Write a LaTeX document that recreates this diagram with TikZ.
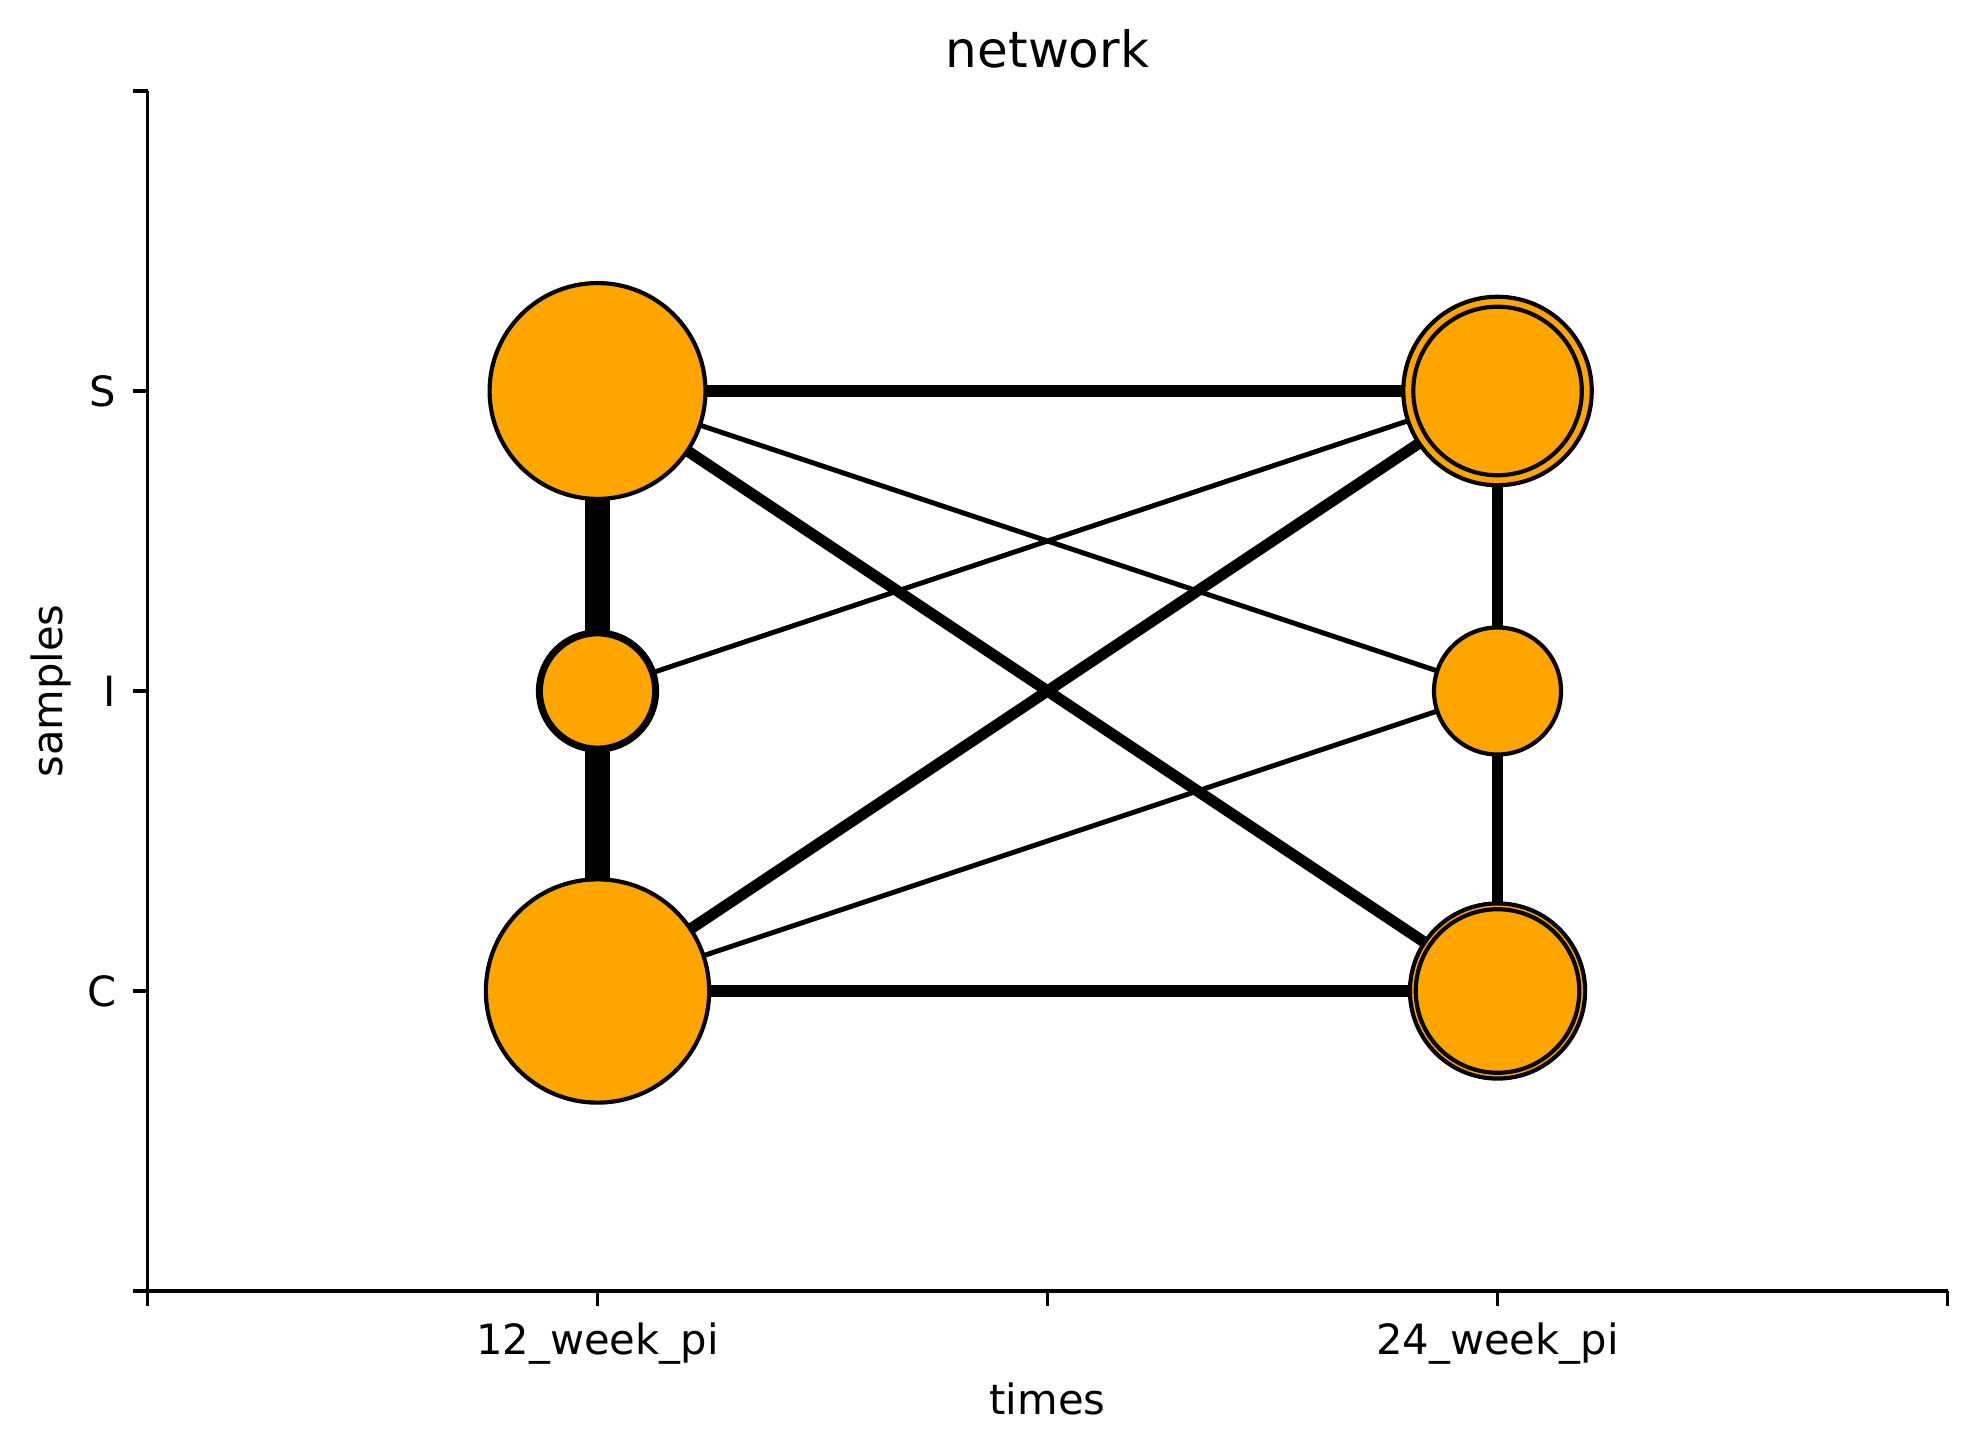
\documentclass[tikz,border=0pt]{standalone}
\usepackage{fontspec}
\setmainfont{DejaVu Sans}
\usepackage{xcolor}
\usepackage{tikz}
\usetikzlibrary{backgrounds}
\definecolor{nodeorange}{HTML}{FFA500}
\tikzset{
    samp/.style={circle, draw, fill=nodeorange, line width=1bp, inner sep=0pt},
    spine/.style={line width=0.8bp},
    tickmark/.style={line width=0.8bp},
    ticklabel/.style={inner sep=0pt, font=\fontsize{10.04}{12}\selectfont},
}

\begin{document}
\begin{tikzpicture}[x=1.5in, y=1in]
        \useasboundingbox (-0.3278,-0.54) rectangle (4.0633,4.3033);

        % axes
        \draw[spine] (0,4) -- (0,0) -- (4,0);
        \draw[tickmark] (0,0) -- (0,-0.0486);
        \draw[tickmark] (1,0) -- (1,-0.0486);
        \draw[tickmark] (2,0) -- (2,-0.0486);
        \draw[tickmark] (3,0) -- (3,-0.0486);
        \draw[tickmark] (4,0) -- (4,-0.0486);
        \draw[tickmark] (0,0) -- (-0.0324,0);
        \draw[tickmark] (0,1) -- (-0.0324,1);
        \draw[tickmark] (0,2) -- (-0.0324,2);
        \draw[tickmark] (0,3) -- (-0.0324,3);
        \draw[tickmark] (0,4) -- (-0.0324,4);

        \node[ticklabel, anchor=base] at (1,-0.213) (x_12) {12\_week\_pi};
        \node[ticklabel, anchor=base] at (3,-0.213) (x_24) {24\_week\_pi};
        \node[ticklabel, anchor=east] at (-0.0678,1) (y_c) {C};
        \node[ticklabel, anchor=east] at (-0.0678,2) (y_i) {I};
        \node[ticklabel, anchor=east] at (-0.0678,3) (y_s) {S};
        \node[ticklabel, anchor=base] at (2,-0.413) (xlabel) {times};
        \node[ticklabel, rotate=90] at (-0.215,2) (ylabel) {samples};
        \node[inner sep=0pt, anchor=base, font=\fontsize{12.05}{14}\selectfont] at (2,4.079) (title) {network};

        % samples
        \node[samp, minimum size=52pt] at (1, 3)   (s_12) {};
        \node[samp, line width=1.7pt, minimum size=28pt] at (1, 2)   (i_12) {};
        \node[samp, minimum size=53.8pt] at (1, 1)   (c_12) {};
        \node[samp, minimum size=45.4pt] at (3, 3)   (s_24) {};
        \node[samp, minimum size=40.6pt] at (3, 3)   (s_24in) {};
        \node[samp, minimum size=30.6pt] at (3, 2)   (i_24) {};
        \node[samp, minimum size=42.2pt] at (3, 1)   (c_24) {};
        \node[samp, minimum size=39.4pt] at (3, 1)   (c_24in) {};

        \begin{scope}[on background layer]
            \draw [line width=6pt] (s_12.center) -- (i_12.center);
            \draw [line width=6pt] (i_12.center) -- (c_12.center);
            \draw [line width=2.8pt] (s_24.center) -- (i_24.center);
            \draw [line width=2.8pt] (i_24.center) -- (c_24.center);
            \draw [line width=3pt] (s_12.center) -- (s_24.center);
            \draw [line width=3pt] (c_12.center) -- (c_24.center);
            \draw [line width=2.7pt] (s_12.center) -- (c_24.center);
            \draw [line width=2.7pt] (c_12.center) -- (s_24.center);
            \draw [line width=1.2pt] (s_12.center) -- (i_24.center);
            \draw [line width=1.2pt] (i_12.center) -- (s_24.center);
            \draw [line width=1.2pt] (c_12.center) -- (i_24.center);
        \end{scope}
\end{tikzpicture}
\end{document}
